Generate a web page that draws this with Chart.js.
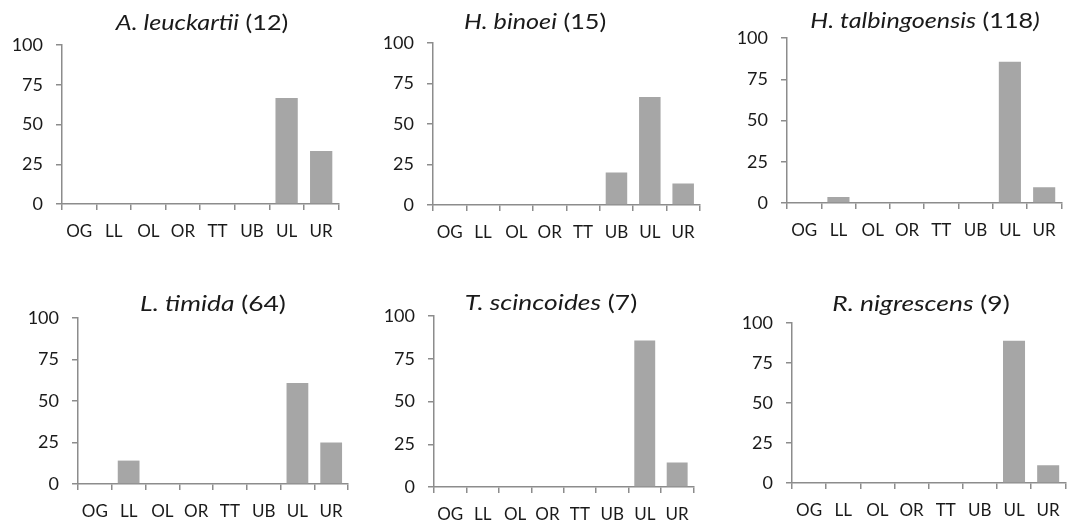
<!DOCTYPE html>
<html>
<head>
<meta charset="utf-8">
<script src="https://cdn.jsdelivr.net/npm/chart.js@4/dist/chart.umd.min.js"></script>
<style>
  html, body { margin: 0; padding: 0; background: #ffffff; }
  #fig { position: relative; width: 1068px; height: 526px; overflow: hidden; }
  #fig canvas { position: absolute; }
</style>
</head>
<body>
<div id="fig"></div>
<script>
// Categories and axis ticks
const categories = ['OG', 'LL', 'OL', 'OR', 'TT', 'UB', 'UL', 'UR'];
const yTicks = [0, 25, 50, 75, 100];

// Species names and sample sizes
const species = ['A. leuckartii', 'H. binoei', 'H. talbingoensis', 'L. timida', 'T. scincoides', 'R. nigrescens'];
const sampleSizes = [12, 15, 118, 64, 7, 9];
const italicCloseParen = [false, false, true, false, false, false];

// Percentage of records per category
const leuckartii    = [0, 0,    0, 0, 0, 0,  66.7, 33.3];
const binoei        = [0, 0,    0, 0, 0, 20, 66.7, 13.3];
const talbingoensis = [0, 3.6,  0, 0, 0, 0,  85.6, 9.5];
const timida        = [0, 14.1, 0, 0, 0, 0,  60.9, 25.0];
const scincoides    = [0, 0,    0, 0, 0, 0,  85.7, 14.3];
const nigrescens    = [0, 0,    0, 0, 0, 0,  88.9, 11.1];
const seriesList = [leuckartii, binoei, talbingoensis, timida, scincoides, nigrescens];

// Layout: plot boxes [left, top, right, bottom], title anchors [centerX, baseline], title font sizes
const plotBoxes = [
  [62, 45, 340, 204],
  [433, 43, 702, 205],
  [787, 38, 1063, 203],
  [78, 318, 350, 484],
  [434, 316, 696, 487],
  [792, 323, 1067, 483]
];
const titleAnchors = [
  [202, 29.5],
  [535, 29],
  [925, 28],
  [213, 310.5],
  [551, 309.5],
  [921, 311]
];
const titleSizes = [21, 21, 21, 22, 22, 22];
const TITLE_STRETCH = 1.2;

const FONT = 'Lato, "Open Sans", sans-serif';
const AXIS_COLOR = '#8c8c8c';
const BAR_COLOR = '#a6a6a6';
const TEXT_COLOR = '#1a1a1a';
const Y_W = 60, X_H = 40, PAD_TOP = 46, PAD_RIGHT = 4;

const fig = document.getElementById('fig');

seriesList.forEach((values, i) => {
  const [l, t, r, b] = plotBoxes[i];
  const cLeft = l - Y_W, cTop = t - PAD_TOP;
  const cW = r - cLeft + PAD_RIGHT, cH = b - cTop + X_H;
  const canvas = document.createElement('canvas');
  canvas.width = cW; canvas.height = cH;
  canvas.style.left = cLeft + 'px';
  canvas.style.top = cTop + 'px';
  canvas.style.width = cW + 'px';
  canvas.style.height = cH + 'px';
  fig.appendChild(canvas);

  const [tx, ty] = titleAnchors[i];
  // Title: italic species name followed by the sample size
  const titlePlugin = {
    id: 'speciesTitle',
    afterDraw(chart) {
      const ctx = chart.ctx;
      const size = titleSizes[i];
      const segs = [
        { text: species[i], italic: true },
        { text: ' (' + sampleSizes[i], italic: false },
        { text: ')', italic: italicCloseParen[i] }
      ];
      let total = 0;
      segs.forEach(s => {
        ctx.font = (s.italic ? 'italic ' : '') + size + 'px ' + FONT;
        s.w = ctx.measureText(s.text).width;
        total += s.w;
      });
      ctx.save();
      ctx.translate(tx - cLeft - total * TITLE_STRETCH / 2, ty - cTop);
      ctx.scale(TITLE_STRETCH, 1);
      ctx.fillStyle = TEXT_COLOR;
      ctx.textBaseline = 'alphabetic';
      ctx.textAlign = 'left';
      let x = 0;
      segs.forEach(s => {
        ctx.font = (s.italic ? 'italic ' : '') + size + 'px ' + FONT;
        ctx.fillText(s.text, x, 0);
        x += s.w;
      });
      ctx.restore();
    }
  };

  new Chart(canvas, {
    type: 'bar',
    data: {
      labels: categories,
      datasets: [{
        data: values,
        backgroundColor: BAR_COLOR,
        borderWidth: 0,
        categoryPercentage: 1,
        barPercentage: 0.645
      }]
    },
    options: {
      responsive: false,
      animation: false,
      devicePixelRatio: 1,
      layout: { padding: { top: PAD_TOP, right: PAD_RIGHT, left: 0, bottom: 0 } },
      plugins: { legend: { display: false }, tooltip: { enabled: false }, title: { display: false } },
      scales: {
        x: {
          offset: true,
          grid: { offset: true, drawOnChartArea: false, drawTicks: true, tickLength: 6, color: AXIS_COLOR, lineWidth: 1.5 },
          border: { display: true, color: AXIS_COLOR, width: 1.5 },
          ticks: { color: TEXT_COLOR, font: { family: FONT, size: 17 }, padding: 11, maxRotation: 0, autoSkip: false },
          afterFit(scale) { scale.height = X_H; }
        },
        y: {
          min: 0, max: 100,
          afterBuildTicks(scale) { scale.ticks = yTicks.map(v => ({ value: v })); },
          grid: { drawOnChartArea: false, drawTicks: true, tickLength: 6, color: AXIS_COLOR, lineWidth: 1.5 },
          border: { display: true, color: AXIS_COLOR, width: 1.5 },
          ticks: { color: TEXT_COLOR, font: { family: FONT, size: 18 }, padding: 13 },
          afterFit(scale) { scale.width = Y_W; }
        }
      }
    },
    plugins: [titlePlugin]
  });
});
</script>
</body>
</html>
